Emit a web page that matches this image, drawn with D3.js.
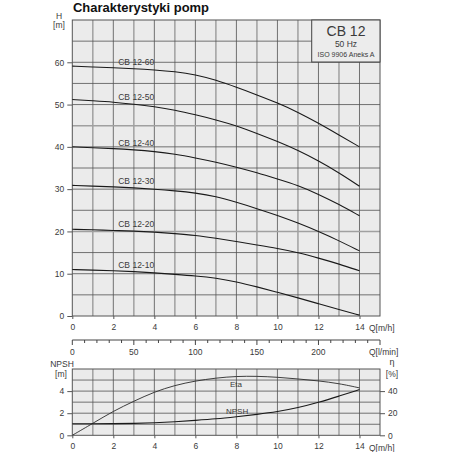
<!DOCTYPE html>
<html>
<head>
<meta charset="utf-8">
<script src="https://cdn.jsdelivr.net/npm/d3@7"></script>
<style>
  body { margin: 0; background: #fff; }
  text { font-family: "Liberation Sans", Arial, sans-serif; fill: #3a3a3a; }
</style>
</head>
<body>
<div id="chart"></div>
<script>
const w = 452;
const h = 452;

// flow points [m3/h]
const qValues = [0, 1, 2, 3, 4, 5, 6, 7, 8, 9, 10, 11, 12, 13, 14];

// head curves H [m]
const pumpNames = ["CB 12-60", "CB 12-50", "CB 12-40", "CB 12-30", "CB 12-20", "CB 12-10"];
const h60 = [59.1, 58.9, 58.7, 58.5, 58.2, 57.8, 57.1, 55.8, 54.1, 52.3, 50.4, 48.2, 45.6, 42.8, 40.0];
const h50 = [51.2, 50.9, 50.6, 50.1, 49.5, 48.7, 47.6, 46.4, 45.0, 43.2, 41.3, 39.2, 36.7, 33.9, 30.7];
const h40 = [40.0, 39.8, 39.6, 39.3, 38.9, 38.3, 37.4, 36.4, 35.2, 33.9, 32.4, 30.9, 28.8, 26.4, 23.7];
const h30 = [30.9, 30.7, 30.55, 30.3, 30.0, 29.6, 29.1, 28.3, 26.9, 25.4, 23.8, 22.0, 20.0, 17.8, 15.4];
const h20 = [20.5, 20.4, 20.2, 20.1, 19.85, 19.5, 19.1, 18.4, 17.6, 16.8, 16.0, 15.0, 13.7, 12.3, 10.7];
const h10 = [11.0, 10.85, 10.7, 10.5, 10.2, 9.85, 9.5, 9.0, 8.1, 6.9, 5.6, 4.3, 2.9, 1.5, 0.2];
const headSeries = [h60, h50, h40, h30, h20, h10];

// efficiency [%] and NPSH [m]
const etaValues = [0, 10.8, 21.9, 30.9, 39.3, 45.3, 49.2, 51.9, 53.4, 53.5, 52.6, 51.0, 49.3, 46.9, 42.9];
const npshValues = [1.05, 1.05, 1.05, 1.08, 1.13, 1.22, 1.35, 1.48, 1.68, 1.89, 2.13, 2.49, 2.97, 3.54, 4.14];

// ticks
const qTicks = [0, 2, 4, 6, 8, 10, 12, 14];
const hTicks = [0, 10, 20, 30, 40, 50, 60];
const lminTicks = [0, 50, 100, 150, 200];
const npshTicks = [0, 2, 4];
const etaTicks = [0, 20, 40];

const svg = d3.select("#chart").append("svg")
    .attr("width", w)
    .attr("height", h);

const x = d3.scaleLinear().domain([0, 15]).range([72.3, 380]);
const xl = d3.scaleLinear().domain([0, 250]).range([72.3, 380]);
const yTop = d3.scaleLinear().domain([0, 70]).range([316, 20]);
const yBot = d3.scaleLinear().domain([0, 6]).range([435.3, 369]);
const yEta = d3.scaleLinear().domain([0, 60]).range([435.3, 369]);

// title
svg.append("text")
   .attr("x", 73).attr("y", 11.5)
   .attr("font-size", 12.5).attr("font-weight", "bold")
   .attr("textLength", 136).attr("lengthAdjust", "spacingAndGlyphs")
   .style("fill", "#111")
   .text("Charakterystyki pomp");

// draws a grid panel
const panel = (yScale, yMax) => {
    const g = svg.append("g");
    g.append("rect")
     .attr("x", x(0)).attr("y", yScale(yMax))
     .attr("width", x(15) - x(0)).attr("height", yScale(0) - yScale(yMax))
     .style("fill", "#ebebeb");
    const vx = d3.range(1, 15);
    g.selectAll("line.v").data(vx).enter().append("line")
     .attr("x1", d => x(d)).attr("x2", d => x(d))
     .attr("y1", yScale(0)).attr("y2", yScale(yMax))
     .style("stroke", d => d % 2 ? "#a0a0a0" : "#505050")
     .style("stroke-width", d => d % 2 ? 1.5 : 0.8);
    return g;
};

const fmt = d3.format("d");
const styleAxis = g => g
    .call(g => g.select(".domain").remove())
    .call(g => g.selectAll("line").style("stroke", "#555"))
    .call(g => g.selectAll("text").attr("font-size", 8.5).style("fill", "#3a3a3a").attr("font-family", null));

// ---------- top chart ----------
const topPanel = panel(yTop, 70);
topPanel.selectAll("line.h").data(d3.range(5, 70, 5)).enter().append("line")
   .attr("x1", x(0)).attr("x2", x(15))
   .attr("y1", d => yTop(d)).attr("y2", d => yTop(d))
   .style("stroke", d => (d === 45 || d === 20) ? "#a0a0a0" : "#505050")
   .style("stroke-width", d => (d === 45 || d === 20) ? 1.5 : 0.8);
topPanel.append("rect")
   .attr("x", x(0)).attr("y", yTop(70))
   .attr("width", x(15) - x(0)).attr("height", yTop(0) - yTop(70))
   .style("fill", "none").style("stroke", "#555").style("stroke-width", 1);

// info box
const bx = 311.7, by = yTop(70);
svg.append("rect")
   .attr("x", bx).attr("y", by).attr("width", x(15) - bx).attr("height", 42)
   .style("fill", "#ececec").style("stroke", "#444").style("stroke-width", 1);
svg.append("text").attr("x", 346).attr("y", 36).attr("text-anchor", "middle")
   .attr("font-size", 14).text("CB 12");
svg.append("text").attr("x", 346).attr("y", 47).attr("text-anchor", "middle")
   .attr("font-size", 8.5).text("50 Hz");
svg.append("text").attr("x", 346).attr("y", 56.5).attr("text-anchor", "middle")
   .attr("font-size", 7).text("ISO 9906 Aneks  A");

const line = yScale => d3.line()
    .x((d, i) => x(qValues[i]))
    .y(d => yScale(d))
    .curve(d3.curveBasis);

svg.selectAll("path.head").data(headSeries).enter().append("path")
   .attr("d", line(yTop))
   .style("fill", "none").style("stroke", "#1a1a1a").style("stroke-width", 1.1);

svg.selectAll("text.pump").data(headSeries).enter().append("text")
   .attr("x", x(2.24))
   .attr("y", d => yTop(d[3]) - 4)
   .attr("font-size", 8.5)
   .text((d, i) => pumpNames[i]);

// axes top
svg.append("g").attr("transform", "translate(" + x(0) + ",0)")
   .call(d3.axisLeft(yTop).tickValues(hTicks).tickFormat(fmt).tickSize(5).tickPadding(3))
   .call(styleAxis);
svg.append("text").attr("x", 59).attr("y", 19).attr("text-anchor", "middle").attr("font-size", 8.5).text("H");
svg.append("text").attr("x", 59).attr("y", 28).attr("text-anchor", "middle").attr("font-size", 8.5).text("[m]");

svg.append("g").attr("transform", "translate(0," + yTop(0) + ")")
   .call(d3.axisBottom(x).tickValues(qTicks).tickFormat(fmt).tickSize(3).tickPadding(5))
   .call(styleAxis);
svg.append("text").attr("x", 369).attr("y", 331).attr("font-size", 8.5).text("Q[m/h]");

// l/min axis
svg.append("line").attr("x1", xl(0)).attr("x2", xl(250)).attr("y1", 340).attr("y2", 340)
   .style("stroke", "#444").style("stroke-width", 1);
svg.selectAll("line.lmin").data(d3.range(0, 251, 10)).enter().append("line")
   .attr("x1", d => xl(d)).attr("x2", d => xl(d))
   .attr("y1", 340).attr("y2", d => d % 50 === 0 ? 345 : 343)
   .style("stroke", "#444").style("stroke-width", 1);
svg.selectAll("text.lmin").data(lminTicks).enter().append("text")
   .attr("x", d => xl(d)).attr("y", 355).attr("text-anchor", "middle")
   .attr("font-size", 8.5).text(d => d);
svg.append("text").attr("x", 369).attr("y", 355).attr("font-size", 8.5).text("Q[l/min]");

// ---------- bottom chart ----------
const botPanel = panel(yBot, 6);
botPanel.selectAll("line.h").data(d3.range(1, 6)).enter().append("line")
   .attr("x1", x(0)).attr("x2", x(15))
   .attr("y1", d => yBot(d)).attr("y2", d => yBot(d))
   .style("stroke", "#505050").style("stroke-width", 0.8);
botPanel.append("rect")
   .attr("x", x(0)).attr("y", yBot(6))
   .attr("width", x(15) - x(0)).attr("height", yBot(0) - yBot(6))
   .style("fill", "none").style("stroke", "#555").style("stroke-width", 1);

svg.append("path").datum(etaValues)
   .attr("d", line(yEta))
   .style("fill", "none").style("stroke", "#2a2a2a").style("stroke-width", 0.9);
svg.append("path").datum(npshValues)
   .attr("d", line(yBot))
   .style("fill", "none").style("stroke", "#1a1a1a").style("stroke-width", 1.1);
svg.append("text").attr("x", 230).attr("y", 387).attr("font-size", 8).text("Eta");
svg.append("text").attr("x", 226).attr("y", 414).attr("font-size", 8).text("NPSH");

svg.append("g").attr("transform", "translate(" + x(0) + ",0)")
   .call(d3.axisLeft(yBot).tickValues(npshTicks).tickFormat(fmt).tickSize(5).tickPadding(3))
   .call(styleAxis);
svg.append("text").attr("x", 62).attr("y", 367).attr("text-anchor", "middle").attr("font-size", 8.5).text("NPSH");
svg.append("text").attr("x", 61).attr("y", 377).attr("text-anchor", "middle").attr("font-size", 8.5).text("[m]");

svg.append("g").attr("transform", "translate(" + x(15) + ",0)")
   .call(d3.axisRight(yEta).tickValues(etaTicks).tickFormat(fmt).tickSize(5).tickPadding(3))
   .call(styleAxis);
svg.append("text").attr("x", 392).attr("y", 365).attr("text-anchor", "middle").attr("font-size", 9).text("η");
svg.append("text").attr("x", 392).attr("y", 377).attr("text-anchor", "middle").attr("font-size", 8.5).text("[%]");

svg.append("g").attr("transform", "translate(0," + yBot(0) + ")")
   .call(d3.axisBottom(x).tickValues(qTicks).tickFormat(fmt).tickSize(3).tickPadding(5))
   .call(styleAxis);
svg.append("text").attr("x", 369).attr("y", 450.5).attr("font-size", 8.5).text("Q[m/h]");
</script>
</body>
</html>
